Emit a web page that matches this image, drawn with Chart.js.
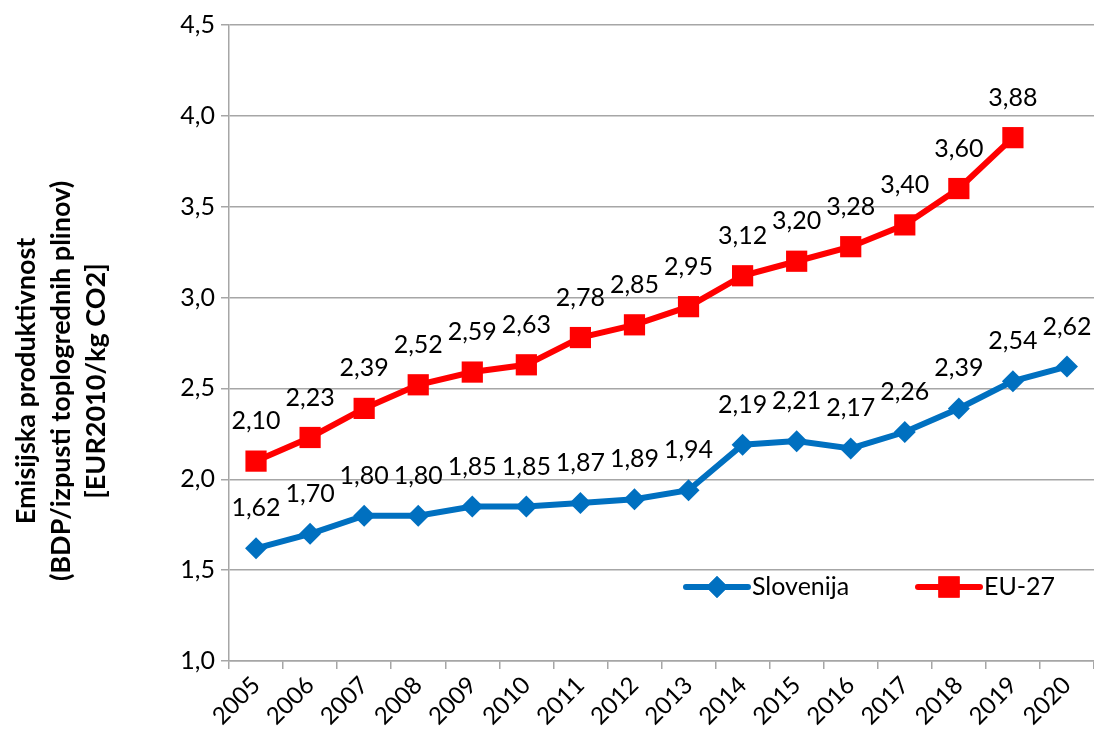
<!DOCTYPE html>
<html>
<head>
<meta charset="utf-8">
<script src="https://cdn.jsdelivr.net/npm/chart.js@4/dist/chart.umd.min.js"></script>
<style>
  html, body { margin: 0; padding: 0; background: #fff; }
  #wrap { width: 1094px; height: 742px; }
</style>
</head>
<body>
<div id="wrap"><canvas id="chart" width="1094" height="742"></canvas></div>
<script>
// podatki
const years = ['2005','2006','2007','2008','2009','2010','2011','2012','2013','2014','2015','2016','2017','2018','2019','2020'];
const slovenija = [1.62, 1.70, 1.80, 1.80, 1.85, 1.85, 1.87, 1.89, 1.94, 2.19, 2.21, 2.17, 2.26, 2.39, 2.54, 2.62];
const eu27 = [2.10, 2.23, 2.39, 2.52, 2.59, 2.63, 2.78, 2.85, 2.95, 3.12, 3.20, 3.28, 3.40, 3.60, 3.88, null];
const yTitle = ['Emisijska produktivnost', '(BDP/izpusti toplogrednih plinov)', '[EUR2010/kg CO2]'];

const FONT = 'Lato, "Open Sans", sans-serif';

// oznake vrednosti nad točkami
const valueLabels = {
    id: 'valueLabels',
    afterDatasetsDraw(chart) {
        const ctx = chart.ctx;
        ctx.save();
        ctx.font = '25px ' + FONT;
        ctx.fillStyle = '#000';
        ctx.textAlign = 'center';
        ctx.textBaseline = 'middle';
        chart.data.datasets.forEach((ds, i) => {
            chart.getDatasetMeta(i).data.forEach((pt, j) => {
                const v = ds.data[j];
                if (v === null) return;
                ctx.fillText(v.toFixed(2).replace('.', ','), pt.x, pt.y - 40);
            });
        });
        ctx.restore();
    }
};

// naslov osi y (zamaknjen navzdol kot v Excelu)
const axisTitle = {
    id: 'axisTitle',
    afterDraw(chart) {
        const ctx = chart.ctx;
        ctx.save();
        ctx.translate(0, 381);
        ctx.rotate(-Math.PI / 2);
        ctx.font = 'bold 27px ' + FONT;
        ctx.fillStyle = '#000';
        ctx.textAlign = 'center';
        ctx.textBaseline = 'middle';
        yTitle.forEach((line, i) => ctx.fillText(line, 0, 26 + i * 35));
        ctx.restore();
    }
};

// legenda v grafu (črta + oznaka)
const innerLegend = {
    id: 'innerLegend',
    afterDraw(chart) {
        const ctx = chart.ctx;
        const y = 587;
        const items = [
            { x: 686, label: 'Slovenija', color: '#0070C0', style: 'rectRot', r: 11 },
            { x: 918, label: 'EU-27', color: '#FF0000', style: 'rect', r: 15 }
        ];
        ctx.save();
        items.forEach(it => {
            ctx.strokeStyle = it.color;
            ctx.lineWidth = 6;
            ctx.lineCap = 'round';
            ctx.beginPath();
            ctx.moveTo(it.x, y);
            ctx.lineTo(it.x + 62, y);
            ctx.stroke();
            ctx.fillStyle = it.color;
            Chart.helpers.drawPoint(ctx, { pointStyle: it.style, radius: it.r, borderWidth: 0 }, it.x + 31, y);
            ctx.fill();
            ctx.fillStyle = '#000';
            ctx.font = '25px ' + FONT;
            ctx.textAlign = 'left';
            ctx.textBaseline = 'middle';
            ctx.fillText(it.label, it.x + 66, y);
        });
        ctx.restore();
    }
};

new Chart(document.getElementById('chart'), {
    type: 'line',
    data: {
        labels: years,
        datasets: [
            {
                label: 'Slovenija',
                data: slovenija,
                borderColor: '#0070C0',
                backgroundColor: '#0070C0',
                borderWidth: 6,
                pointStyle: 'rectRot',
                pointRadius: 11,
                pointBorderWidth: 0,
                tension: 0
            },
            {
                label: 'EU-27',
                data: eu27,
                borderColor: '#FF0000',
                backgroundColor: '#FF0000',
                borderWidth: 6,
                pointStyle: 'rect',
                pointRadius: 15,
                pointBorderWidth: 0,
                tension: 0
            }
        ]
    },
    options: {
        responsive: false,
        animation: false,
        layout: { autoPadding: false, padding: { top: 25, right: 0, left: 0, bottom: 0 } },
        plugins: {
            legend: { display: false },
            tooltip: { enabled: false }
        },
        scales: {
            x: {
                offset: true,
                grid: {
                    offset: true,
                    drawOnChartArea: false,
                    drawTicks: true,
                    tickLength: 8,
                    color: '#a6a6a6',
                    lineWidth: 1.5
                },
                border: { color: '#a6a6a6', width: 1.5 },
                ticks: {
                    color: '#000',
                    font: { family: FONT, size: 24 },
                    maxRotation: 45,
                    minRotation: 45,
                    autoSkip: false,
                    padding: 2
                },
                afterFit(scale) {
                    scale.height = 81;
                    scale.paddingRight = 0;
                    scale.paddingLeft = 0;
                }
            },
            y: {
                min: 1.0,
                max: 4.5,
                ticks: {
                    stepSize: 0.5,
                    color: '#000',
                    font: { family: FONT, size: 25 },
                    padding: 6,
                    callback: v => v.toFixed(1).replace('.', ',')
                },
                grid: {
                    color: '#a6a6a6',
                    tickLength: 8,
                    lineWidth: 1.5
                },
                border: { color: '#a6a6a6', width: 1.5 },
                afterFit(scale) {
                    scale.width = 229;
                    scale.paddingTop = 0;
                    scale.paddingBottom = 0;
                }
            }
        }
    },
    plugins: [valueLabels, axisTitle, innerLegend]
});
</script>
</body>
</html>
